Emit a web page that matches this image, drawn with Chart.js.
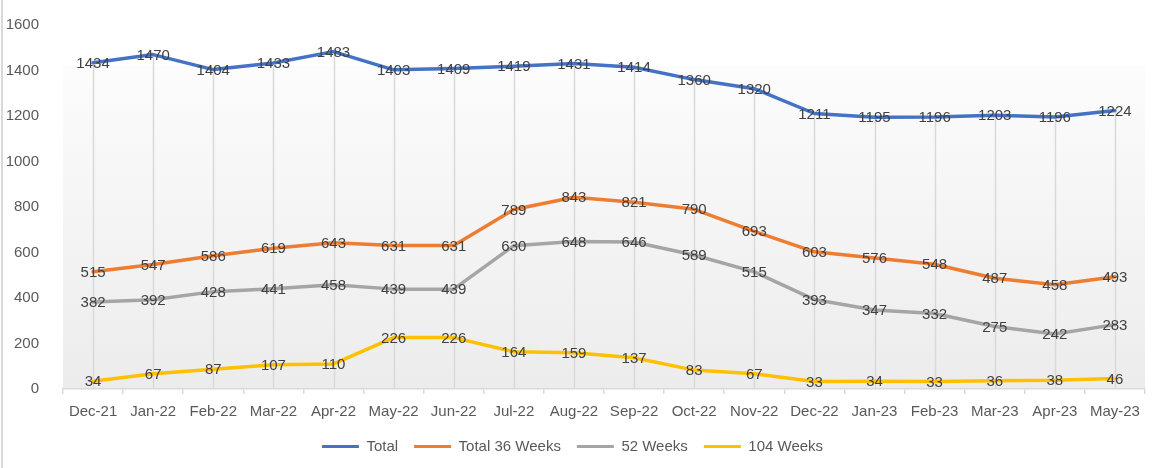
<!DOCTYPE html>
<html>
<head>
<meta charset="utf-8">
<script src="https://cdn.jsdelivr.net/npm/chart.js@4.4.0/dist/chart.umd.min.js"></script>
<style>
  html, body { margin: 0; padding: 0; background: #ffffff; }
  #c { display: block; }
</style>
</head>
<body>
<canvas id="c" width="1152" height="468"></canvas>
<script>
const categories = ["Dec-21","Jan-22","Feb-22","Mar-22","Apr-22","May-22","Jun-22","Jul-22","Aug-22","Sep-22","Oct-22","Nov-22","Dec-22","Jan-23","Feb-23","Mar-23","Apr-23","May-23"];
const total      = [1434,1470,1404,1433,1483,1403,1409,1419,1431,1414,1360,1320,1211,1195,1196,1203,1196,1224];
const total36    = [515,547,586,619,643,631,631,789,843,821,790,693,603,576,548,487,458,493];
const weeks52    = [382,392,428,441,458,439,439,630,648,646,589,515,393,347,332,275,242,283];
const weeks104   = [34,67,87,107,110,226,226,164,159,137,83,67,33,34,33,36,38,46];
const seriesNames = ["Total","Total 36 Weeks","52 Weeks","104 Weeks"];
const yMin = 0, yMax = 1600, yStep = 200;

const FONT = "'Liberation Sans', Arial, sans-serif";
const colors = ["#4472C4","#ED7D31","#A5A5A5","#FFC000"];
const seriesData = [total, total36, weeks52, weeks104];

const bgPlugin = {
  id: 'bg',
  beforeDraw(chart) {
    const ctx = chart.ctx, a = chart.chartArea;
    ctx.save();
    ctx.fillStyle = '#d9d9d9';
    ctx.fillRect(1, 0, 2, chart.height);
    const g = ctx.createLinearGradient(0, a.top, 0, a.bottom);
    g.addColorStop(0, '#ffffff');
    g.addColorStop(0.11, '#ffffff');
    g.addColorStop(0.115, '#fcfcfc');
    g.addColorStop(1, '#ececec');
    ctx.fillStyle = g;
    ctx.fillRect(a.left, a.top, a.right - a.left, a.bottom - a.top);
    ctx.restore();
  },
  beforeDatasetsDraw(chart) {
    const ctx = chart.ctx, x = chart.scales.x, y = chart.scales.y;
    ctx.save();
    ctx.strokeStyle = '#d9d9d9';
    ctx.lineWidth = 1.5;
    categories.forEach((c, i) => {
      const maxV = Math.max(...seriesData.map(s => s[i]));
      const px = Math.round(x.getPixelForValue(i)) + 0.5;
      ctx.beginPath();
      ctx.moveTo(px, y.getPixelForValue(maxV));
      ctx.lineTo(px, y.getPixelForValue(0));
      ctx.stroke();
    });
    ctx.restore();
  },
  afterDatasetsDraw(chart) {
    const ctx = chart.ctx;
    ctx.save();
    ctx.font = "15px " + FONT;
    ctx.fillStyle = '#404040';
    ctx.textAlign = 'center';
    ctx.textBaseline = 'middle';
    chart.data.datasets.forEach((ds, di) => {
      const meta = chart.getDatasetMeta(di);
      meta.data.forEach((pt, i) => {
        ctx.fillText(String(ds.data[i]), pt.x, pt.y + 1);
      });
    });
    ctx.restore();
  }
};

new Chart(document.getElementById('c'), {
  type: 'line',
  data: {
    labels: categories,
    datasets: seriesNames.map((n, i) => ({
      label: n,
      data: seriesData[i],
      borderColor: colors[i],
      backgroundColor: colors[i],
      borderWidth: 3.5,
      pointRadius: 0,
      pointHoverRadius: 0,
      tension: 0,
      borderJoinStyle: 'round',
      borderCapStyle: 'round',
      fill: false
    }))
  },
  options: {
    responsive: false,
    animation: false,
    devicePixelRatio: 1,
    layout: { padding: { top: 23, right: 7, left: 0, bottom: 4 } },
    plugins: {
      tooltip: { enabled: false },
      legend: {
        position: 'bottom',
        labels: {
          boxWidth: 37,
          boxHeight: 3,
          padding: 16,
          color: '#595959',
          font: { family: FONT, size: 15 },
          generateLabels(chart) {
            const items = Chart.defaults.plugins.legend.labels.generateLabels(chart);
            items.forEach(it => { it.lineWidth = 0; });
            return items;
          }
        }
      }
    },
    scales: {
      x: {
        offset: true,
        grid: { offset: true, drawOnChartArea: false, drawTicks: true, tickLength: 5, color: '#d9d9d9', lineWidth: 1.5 },
        border: { display: true, color: '#d9d9d9', width: 1.5 },
        ticks: { color: '#595959', font: { family: FONT, size: 15 }, padding: 9, maxRotation: 0, autoSkip: false },
        afterFit(s) { s.height = 34; }
      },
      y: {
        min: yMin, max: yMax,
        grid: { display: false },
        border: { display: false },
        ticks: { stepSize: yStep, color: '#595959', font: { family: FONT, size: 15 }, padding: 16,
                 callback: v => String(v) },
        afterFit(s) { s.width = 63; }
      }
    }
  },
  plugins: [bgPlugin]
});
</script>
</body>
</html>
